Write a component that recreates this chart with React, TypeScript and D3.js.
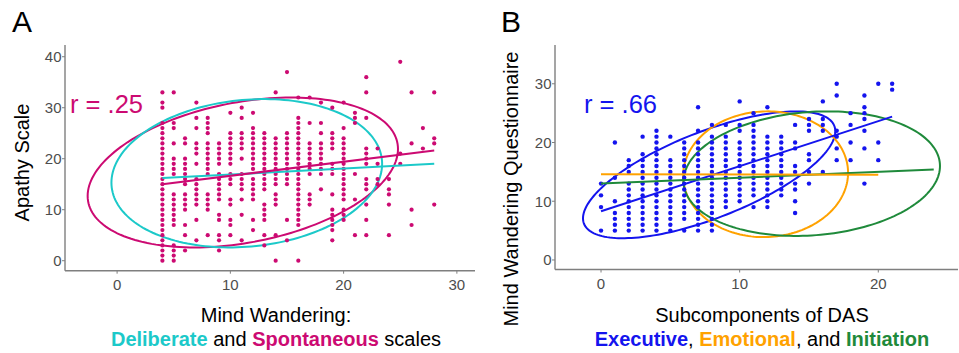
import React, { useEffect, useRef } from "react";
import * as d3 from "d3";

// Panel A: apathy score by mind wandering (spontaneous) score, one column per x
const apathyColumns: [number, number[]][] = [
  [4, [0, 1, 2, 3, 4, 5, 6, 7, 8, 9, 10, 11, 12, 13, 14, 15, 16, 17, 18, 19, 20, 21, 22, 23, 24, 25, 26, 27, 30, 31, 33]],
  [5, [0, 1, 2, 3, 7, 8, 9, 10, 11, 12, 13, 17, 18, 19, 20, 23, 26, 27, 33]],
  [6, [2, 5, 7, 10, 11, 12, 13, 15, 16, 17, 18, 19, 20, 23, 24]],
  [7, [4, 8, 11, 12, 13, 14, 15, 16, 19, 21, 22, 23, 26, 28, 31]],
  [8, [5, 10, 11, 12, 13, 17, 18, 19, 20, 21, 22, 23, 25, 26, 27, 28]],
  [9, [2, 4, 5, 8, 9, 12, 13, 14, 15, 16, 17, 19, 20, 21, 22, 23]],
  [10, [5, 7, 8, 11, 12, 15, 16, 17, 19, 20, 21, 22, 23, 24, 25, 29]],
  [11, [4, 9, 12, 14, 15, 16, 17, 20, 22, 23, 24, 25, 28, 30]],
  [12, [6, 8, 12, 13, 14, 15, 16, 18, 19, 20, 21, 22, 23, 24, 25, 26, 29]],
  [13, [3, 5, 8, 9, 10, 11, 14, 15, 16, 17, 18, 19, 20, 21, 22, 23, 24, 25]],
  [14, [0, 5, 11, 12, 13, 15, 16, 17, 18, 19, 20, 21, 22, 23, 24, 33]],
  [15, [4, 8, 15, 16, 17, 18, 19, 20, 21, 22, 23, 24, 25, 37]],
  [16, [0, 7, 8, 9, 10, 11, 12, 13, 14, 15, 16, 17, 18, 19, 20, 21, 22, 23, 24, 25, 26, 27, 28, 32]],
  [17, [11, 12, 13, 17, 18, 19, 20, 21, 22, 23, 27, 32]],
  [18, [14, 17, 18, 19, 20, 21, 22, 23, 25, 27, 31]],
  [19, [4, 6, 7, 8, 9, 10, 13, 17, 18, 19, 22, 23, 24, 25, 30]],
  [20, [8, 9, 10, 12, 13, 14, 15, 16, 17, 18, 19, 20, 21, 22, 23, 24, 26, 31]],
  [21, [5, 12, 17, 27, 28, 29]],
  [22, [5, 8, 11, 14, 15, 16, 19, 20, 21, 22, 28, 33, 36]],
  [23, [15, 16, 19, 22]],
  [24, [5, 11, 13, 14, 16]],
  [25, [19, 21, 39]],
  [26, [7, 10, 23, 33]],
  [27, [22, 26]],
  [28, [11, 23, 24, 33]],
];

// Panel B: mind wandering questionnaire by executive DAS score
const mwColumns: [number, number[]][] = [
  [0, [5, 9, 11, 13]],
  [1, [5, 6, 7, 8, 10, 14, 20]],
  [2, [5, 6, 7, 8, 9, 10, 11, 12, 13, 15, 16, 17]],
  [3, [5, 6, 7, 8, 9, 10, 11, 12, 13, 14, 15, 16, 17, 18, 21]],
  [4, [5, 6, 7, 8, 9, 10, 11, 12, 13, 14, 15, 16, 17, 18, 19, 20, 21, 22]],
  [5, [5, 6, 7, 8, 9, 10, 11, 12, 13, 14, 15, 16, 17, 21]],
  [6, [5, 7, 8, 9, 10, 11, 12, 13, 14, 15, 16, 17, 18, 19, 20]],
  [7, [5, 6, 7, 8, 9, 10, 11, 12, 13, 14, 15, 16, 17, 18, 19, 20, 22, 26]],
  [8, [5, 6, 7, 8, 9, 10, 11, 12, 13, 14, 15, 16, 17, 18, 19, 20, 21, 23]],
  [9, [9, 10, 11, 12, 13, 14, 15, 16, 17, 18, 19, 20, 21, 23]],
  [10, [10, 11, 12, 13, 14, 15, 16, 17, 18, 19, 20, 22, 23, 27]],
  [11, [9, 11, 12, 13, 14, 15, 16, 17, 18, 19, 20, 21, 22, 23, 25]],
  [12, [9, 10, 11, 12, 13, 14, 15, 16, 17, 18, 19, 20, 21, 26]],
  [13, [11, 12, 13, 14, 15, 16, 17, 18, 19, 20, 21]],
  [14, [8, 10, 12, 13, 15, 16, 19, 20, 23]],
  [15, [13, 15, 17, 18, 22, 23, 24]],
  [16, [15, 22, 23, 24, 27]],
  [17, [17, 19, 21, 22, 28, 30]],
  [18, [17, 20, 23, 25]],
  [19, [13, 19, 22, 24, 25, 26, 28]],
  [20, [17, 20, 30]],
  [21, [29, 30]],
];

// fitted lines: [x0, y0, x1, y1]
const spontaneousFit = [4, 15.0, 28, 21.6];
const deliberateFit = [4, 16.2, 28, 19.0];
const executiveFit = [0, 8.3, 21, 24.4];
const emotionalFit = [0, 14.6, 20, 14.5];
const initiationFit = [0, 13.0, 24, 15.4];

// ellipses: [cx, cy, a, b, c] -> x = cx + a cos t, y = cy + b cos t + c sin t
const spontaneousEllipse = [11.1, 17.3, 13.7, 4.6, 13.96];
const deliberateEllipse = [11.45, 17.15, 11.95, 1.85, 14.43];
const executiveEllipse = [7.8, 14.5, 9.1, 7.4, 7.86];
const emotionalEllipse = [11.87, 14.6, 5.95, 0.25, 10.7];
const initiationEllipse = [15.2, 14.7, 9.25, 1.3, 10.52];

const xTicksA = [0, 10, 20, 30];
const yTicksA = [0, 10, 20, 30, 40];
const xTicksB = [0, 10, 20];
const yTicksB = [0, 10, 20, 30];

const MAGENTA = "#cc0a72";
const CYAN = "#1cc9c9";
const BLUE = "#1414ee";
const ORANGE = "#ffa200";
const GREEN = "#1f8a3b";
const FONT = "'Liberation Sans', Arial, sans-serif";

const App = () => {
  const ref = useRef<SVGSVGElement>(null);

  useEffect(() => {
    const svg = d3.select(ref.current);
    svg.selectAll("*").remove();

    const drawPanel = (opts: any) => {
      const { x, y, xTicks, yTicks, columns, dotColor, dotR, fits, ellipses } = opts;
      const g = svg.append("g");
      const [x0, x1] = x.range();
      const [y0, y1] = y.range();

      // ellipses
      ellipses.forEach(([e, color]: [number[], string]) => {
        const [cx, cy, a, b, c] = e;
        const pts = d3.range(0, 2 * Math.PI, Math.PI / 90).map((t) => [
          x(cx + a * Math.cos(t)),
          y(cy + b * Math.cos(t) + c * Math.sin(t)),
        ]) as [number, number][];
        g.append("path")
          .attr("d", d3.line().curve(d3.curveLinearClosed)(pts))
          .attr("fill", "none")
          .attr("stroke", color)
          .attr("stroke-width", 2);
      });

      // points
      const pts = columns.flatMap(([cx, ys]: [number, number[]]) => ys.map((v) => [cx, v]));
      g.selectAll("circle.dot")
        .data(pts)
        .enter()
        .append("circle")
        .attr("class", "dot")
        .attr("cx", (d: number[]) => x(d[0]))
        .attr("cy", (d: number[]) => y(d[1]))
        .attr("r", dotR)
        .attr("fill", dotColor);

      // fit lines
      fits.forEach(([f, color]: [number[], string]) => {
        g.append("line")
          .attr("x1", x(f[0]))
          .attr("y1", y(f[1]))
          .attr("x2", x(f[2]))
          .attr("y2", y(f[3]))
          .attr("stroke", color)
          .attr("stroke-width", 2);
      });

      // axes
      const axisColor = "#7f7f7f";
      g.append("line")
        .attr("x1", x0).attr("x2", x0).attr("y1", y0).attr("y2", y1)
        .attr("stroke", axisColor).attr("stroke-width", 1.4);
      g.append("line")
        .attr("x1", x0).attr("x2", x1).attr("y1", y0).attr("y2", y0)
        .attr("stroke", axisColor).attr("stroke-width", 1.4);

      xTicks.forEach((t: number) => {
        g.append("line")
          .attr("x1", x(t)).attr("x2", x(t)).attr("y1", y0).attr("y2", y0 + 3)
          .attr("stroke", axisColor).attr("stroke-width", 1);
        g.append("text")
          .attr("x", x(t))
          .attr("y", y0 + 19.5)
          .attr("text-anchor", "middle")
          .attr("font-size", 15)
          .attr("fill", "#4d4d4d")
          .text(t);
      });
      yTicks.forEach((t: number) => {
        g.append("line")
          .attr("x1", x0 - 3).attr("x2", x0).attr("y1", y(t)).attr("y2", y(t))
          .attr("stroke", axisColor).attr("stroke-width", 1);
        g.append("text")
          .attr("x", x0 - 3.5)
          .attr("y", y(t) + 5.3)
          .attr("text-anchor", "end")
          .attr("font-size", 15)
          .attr("fill", "#4d4d4d")
          .text(t);
      });
      return g;
    };

    svg.attr("width", 959).attr("height", 353).style("font-family", FONT);

    // Panel A
    const xA = d3.scaleLinear().domain([-4.6, 31.6]).range([65, 475]);
    const yA = d3.scaleLinear().domain([-1.96, 42.3]).range([270.7, 45]);
    drawPanel({
      x: xA, y: yA, xTicks: xTicksA, yTicks: yTicksA,
      columns: apathyColumns, dotColor: MAGENTA, dotR: 2.1,
      fits: [[deliberateFit, CYAN], [spontaneousFit, MAGENTA]],
      ellipses: [[spontaneousEllipse, MAGENTA], [deliberateEllipse, CYAN]],
    });

    // Panel B
    const xB = d3.scaleLinear().domain([-3.32, 25.75]).range([555, 958]);
    const yB = d3.scaleLinear().domain([-1.62, 36.6]).range([269.5, 45]);
    drawPanel({
      x: xB, y: yB, xTicks: xTicksB, yTicks: yTicksB,
      columns: mwColumns, dotColor: BLUE, dotR: 2.2,
      fits: [[executiveFit, BLUE], [initiationFit, GREEN], [emotionalFit, ORANGE]],
      ellipses: [[executiveEllipse, BLUE], [emotionalEllipse, ORANGE], [initiationEllipse, GREEN]],
    });

    // panel letters
    svg.append("text").attr("x", 12).attr("y", 32).attr("font-size", 30).text("A");
    svg.append("text").attr("x", 501).attr("y", 32).attr("font-size", 30).text("B");

    // r labels
    svg.append("text").attr("x", 70).attr("y", 113).attr("font-size", 25.5)
      .attr("fill", MAGENTA).text("r = .25");
    svg.append("text").attr("x", 584).attr("y", 113).attr("font-size", 25.5)
      .attr("fill", BLUE).text("r = .66");

    // y titles
    svg.append("text")
      .attr("transform", "translate(29,162.5) rotate(-90)")
      .attr("text-anchor", "middle")
      .attr("font-size", 20)
      .text("Apathy Scale");
    svg.append("text")
      .attr("transform", "translate(518,189) rotate(-90)")
      .attr("text-anchor", "middle")
      .attr("font-size", 20)
      .text("Mind Wandering Questionnaire");

    // x titles
    svg.append("text").attr("x", 276).attr("y", 322).attr("text-anchor", "middle")
      .attr("font-size", 20).text("Mind Wandering:");
    const subA = svg.append("text").attr("x", 276).attr("y", 346)
      .attr("text-anchor", "middle").attr("font-size", 20);
    subA.append("tspan").attr("font-weight", "bold").attr("fill", CYAN).text("Deliberate");
    subA.append("tspan").text(" and ");
    subA.append("tspan").attr("font-weight", "bold").attr("fill", MAGENTA).text("Spontaneous");
    subA.append("tspan").text(" scales");

    svg.append("text").attr("x", 762).attr("y", 322).attr("text-anchor", "middle")
      .attr("font-size", 20).text("Subcomponents of DAS");
    const subB = svg.append("text").attr("x", 762).attr("y", 346)
      .attr("text-anchor", "middle").attr("font-size", 20);
    subB.append("tspan").attr("font-weight", "bold").attr("fill", BLUE).text("Executive");
    subB.append("tspan").text(", ");
    subB.append("tspan").attr("font-weight", "bold").attr("fill", ORANGE).text("Emotional");
    subB.append("tspan").text(", and ");
    subB.append("tspan").attr("font-weight", "bold").attr("fill", GREEN).text("Initiation");
  }, []);

  return <svg ref={ref} style={{ position: "absolute", left: 0, top: 0 }}></svg>;
};

export default App;
